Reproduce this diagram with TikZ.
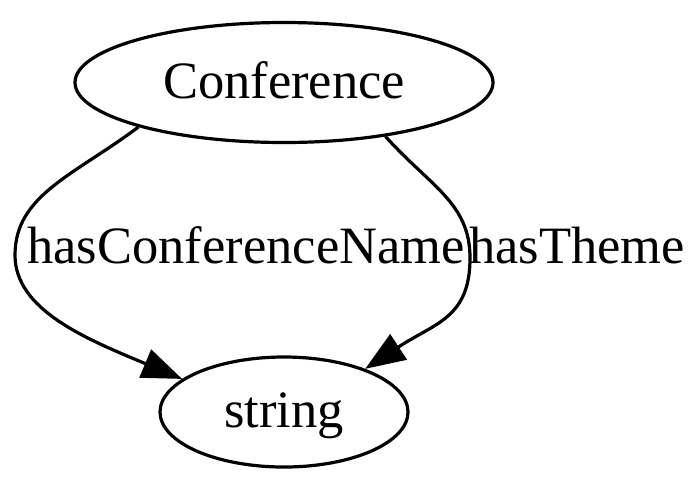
\documentclass[tikz,border=0pt]{standalone}
\usepackage{fontspec}
\setmainfont{Liberation Serif}
\usetikzlibrary{arrows.meta,shapes.geometric}

\begin{document}
\begin{tikzpicture}[x=0.5pt,y=-0.5pt]
    \tikzstyle{class}=[draw,ellipse,line width=1.6pt,inner sep=0pt,
        text height=18pt,text depth=2.5pt]
    \tikzstyle{edge}=[line width=1.6pt,-{Triangle[length=20pt,width=15pt]}]
    \tikzstyle{lbl}=[anchor=base,inner sep=0pt]
    \useasboundingbox (0,0) rectangle (700,495);
    \fontsize{26.25}{30}\selectfont
    % Nodes
    \node[class,minimum width=209pt,minimum height=60pt] (conf) at (284,82.5) {Conference};
    \node[class,minimum width=124pt,minimum height=55pt] (str) at (284,412) {string};
    \coordinate (lbend) at (15,255);
    \coordinate (rbend) at (470,258);
    % Edges
    \draw[edge] (conf.197) .. controls +(-64,48) and +(0,-60) .. (lbend)
        .. controls +(0,55) and +(-96,-40) .. (str.162);
    \draw[edge] (conf.332) .. controls +(45,50) and +(0,-55) .. (rbend)
        .. controls +(0,60) and +(70,-46) .. (str.28);
    % Labels
    \node[lbl] (lname) at (246,263) {hasConferenceName};
    \node[lbl] (ltheme) at (577,263) {hasTheme};
\end{tikzpicture}
\end{document}
